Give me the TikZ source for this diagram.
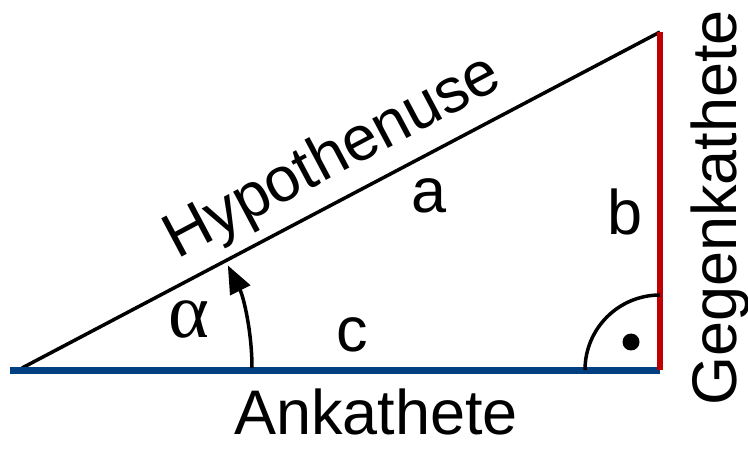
\documentclass[tikz,border=0pt]{standalone}
\usepackage{fontspec}
\setmainfont{Liberation Sans}
\newfontfamily\alphafont{Liberation Serif}
\usetikzlibrary{arrows.meta}
\definecolor{kblue}{RGB}{0,64,128}
\definecolor{kred}{RGB}{192,0,0}
\tikzset{
  lbl/.style={inner sep=0pt, outer sep=0pt, font=\fontsize{63}{70}\selectfont},
  thin line/.style={line width=3.5pt, black},
}
\begin{document}
\begin{tikzpicture}[x=1pt,y=-1pt]
\useasboundingbox (0,0) rectangle (748,449);
\coordinate (A) at (22,368);
\coordinate (C) at (660,370);
\coordinate (B) at (660,32);
\coordinate (L) at (10,371);
% hypotenuse
\draw[thin line] (A) -- (B);
% adjacent side
\draw[kblue, line width=7pt] (L) -- (C |- L);
% opposite side
\draw[kred, line width=6pt] (B) -- (C);
% right angle mark
\draw[thin line] (C) ++(-75,0) arc[start angle=180, end angle=270, radius=75];
\fill (631,342) circle[radius=8.5];
% angle arrow
\draw[thin line, -{Triangle[length=28pt,width=22pt]}] (A) ++(230,0) arc[start angle=0, end angle=-26.5, radius=230];
% labels
\node[lbl, anchor=base west, rotate=27.95] (hyp) at (177,260) {Hypothenuse};
\node[lbl, anchor=base west] (ank) at (234,435) {Ankathete};
\node[lbl, anchor=base west, rotate=90] (geg) at (736,406) {Gegenkathete};
\node[lbl, anchor=base] (a) at (429,213) {a};
\node[lbl, anchor=base] (b) at (625,235) {b};
\node[lbl, anchor=base] (c) at (352,352) {c};
\node[lbl, anchor=base, font=\alphafont\fontsize{78}{80}\selectfont] (al) at (189,338) {α};
\end{tikzpicture}
\end{document}
